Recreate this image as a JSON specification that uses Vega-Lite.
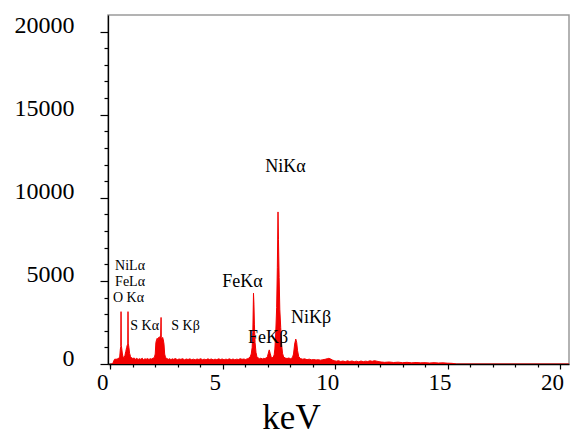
{
  "$schema": "https://vega.github.io/schema/vega-lite/v6.json",
  "width": 461,
  "height": 349,
  "autosize": {"type": "none"},
  "padding": {"left": 108, "top": 15, "right": 2, "bottom": 72},
  "background": "white",
  "config": {
    "view": {"stroke": "#9a9a9a", "strokeWidth": 1.5},
    "font": "Liberation Serif",
    "axis": {"grid": false, "domainColor": "#000", "tickColor": "#000", "labelColor": "#000", "titleColor": "#000", "labelFont": "Liberation Serif", "titleFont": "Liberation Serif", "domainWidth": 1.3, "tickWidth": 1.2}
  },
  "datasets": {
    "spec": [
      {"e": 0.00, "c": 0}, {"e": 0.10, "c": 0}, {"e": 0.14, "c": 120}, {"e": 0.18, "c": 260}, {"e": 0.22, "c": 310},
      {"e": 0.26, "c": 240}, {"e": 0.30, "c": 330}, {"e": 0.34, "c": 280}, {"e": 0.38, "c": 360}, {"e": 0.42, "c": 420},
      {"e": 0.45, "c": 900}, {"e": 0.47, "c": 1050}, {"e": 0.48, "c": 3150}, {"e": 0.49, "c": 1100}, {"e": 0.51, "c": 950},
      {"e": 0.54, "c": 600}, {"e": 0.57, "c": 420}, {"e": 0.61, "c": 380}, {"e": 0.65, "c": 500}, {"e": 0.69, "c": 750},
      {"e": 0.73, "c": 1000}, {"e": 0.76, "c": 1150}, {"e": 0.78, "c": 1200}, {"e": 0.79, "c": 3150}, {"e": 0.80, "c": 1250},
      {"e": 0.83, "c": 1000}, {"e": 0.86, "c": 650}, {"e": 0.90, "c": 450}, {"e": 0.95, "c": 380}, {"e": 1.00, "c": 330},
      {"e": 1.06, "c": 360}, {"e": 1.12, "c": 290}, {"e": 1.18, "c": 340}, {"e": 1.24, "c": 270}, {"e": 1.30, "c": 320},
      {"e": 1.36, "c": 280}, {"e": 1.42, "c": 350}, {"e": 1.48, "c": 260}, {"e": 1.54, "c": 310}, {"e": 1.60, "c": 290},
      {"e": 1.66, "c": 330}, {"e": 1.72, "c": 270}, {"e": 1.78, "c": 320}, {"e": 1.84, "c": 300}, {"e": 1.90, "c": 350},
      {"e": 1.96, "c": 380}, {"e": 2.00, "c": 600}, {"e": 2.03, "c": 1300}, {"e": 2.06, "c": 1450}, {"e": 2.09, "c": 1550},
      {"e": 2.12, "c": 1400}, {"e": 2.15, "c": 1600}, {"e": 2.18, "c": 1500}, {"e": 2.21, "c": 1650}, {"e": 2.24, "c": 1550},
      {"e": 2.26, "c": 2800}, {"e": 2.27, "c": 1600}, {"e": 2.30, "c": 1500}, {"e": 2.33, "c": 1600}, {"e": 2.36, "c": 1450},
      {"e": 2.39, "c": 1200}, {"e": 2.42, "c": 600}, {"e": 2.46, "c": 380}, {"e": 2.52, "c": 330}, {"e": 2.58, "c": 280},
      {"e": 2.64, "c": 320}, {"e": 2.70, "c": 260}, {"e": 2.76, "c": 310}, {"e": 2.82, "c": 280}, {"e": 2.90, "c": 330},
      {"e": 2.98, "c": 260}, {"e": 3.06, "c": 300}, {"e": 3.14, "c": 280}, {"e": 3.22, "c": 320}, {"e": 3.30, "c": 250},
      {"e": 3.38, "c": 300}, {"e": 3.46, "c": 270}, {"e": 3.54, "c": 310}, {"e": 3.62, "c": 260}, {"e": 3.70, "c": 290},
      {"e": 3.78, "c": 250}, {"e": 3.86, "c": 300}, {"e": 3.94, "c": 270}, {"e": 4.02, "c": 320}, {"e": 4.10, "c": 260},
      {"e": 4.18, "c": 290}, {"e": 4.26, "c": 250}, {"e": 4.34, "c": 310}, {"e": 4.42, "c": 270}, {"e": 4.50, "c": 300},
      {"e": 4.58, "c": 250}, {"e": 4.66, "c": 290}, {"e": 4.74, "c": 260}, {"e": 4.82, "c": 310}, {"e": 4.90, "c": 270},
      {"e": 4.98, "c": 300}, {"e": 5.06, "c": 250}, {"e": 5.14, "c": 290}, {"e": 5.22, "c": 270}, {"e": 5.30, "c": 310},
      {"e": 5.38, "c": 260}, {"e": 5.46, "c": 300}, {"e": 5.54, "c": 250}, {"e": 5.62, "c": 290}, {"e": 5.70, "c": 270},
      {"e": 5.78, "c": 320}, {"e": 5.86, "c": 280}, {"e": 5.94, "c": 300}, {"e": 6.02, "c": 270}, {"e": 6.10, "c": 320},
      {"e": 6.16, "c": 350}, {"e": 6.22, "c": 420}, {"e": 6.27, "c": 600}, {"e": 6.31, "c": 1000}, {"e": 6.34, "c": 1900},
      {"e": 6.37, "c": 4260}, {"e": 6.39, "c": 3600}, {"e": 6.41, "c": 2400}, {"e": 6.44, "c": 1300}, {"e": 6.48, "c": 700},
      {"e": 6.52, "c": 450}, {"e": 6.58, "c": 360}, {"e": 6.64, "c": 320}, {"e": 6.70, "c": 350}, {"e": 6.76, "c": 300},
      {"e": 6.82, "c": 340}, {"e": 6.88, "c": 320}, {"e": 6.94, "c": 380}, {"e": 6.99, "c": 450}, {"e": 7.03, "c": 650},
      {"e": 7.07, "c": 850}, {"e": 7.11, "c": 650}, {"e": 7.15, "c": 450}, {"e": 7.20, "c": 380}, {"e": 7.25, "c": 420},
      {"e": 7.29, "c": 550}, {"e": 7.32, "c": 900}, {"e": 7.36, "c": 1900}, {"e": 7.40, "c": 3400}, {"e": 7.43, "c": 5800},
      {"e": 7.46, "c": 9150}, {"e": 7.48, "c": 7500}, {"e": 7.51, "c": 5200}, {"e": 7.54, "c": 3300}, {"e": 7.58, "c": 2200},
      {"e": 7.62, "c": 1200}, {"e": 7.66, "c": 650}, {"e": 7.71, "c": 420}, {"e": 7.78, "c": 360}, {"e": 7.86, "c": 330},
      {"e": 7.94, "c": 360}, {"e": 8.02, "c": 320}, {"e": 8.10, "c": 380}, {"e": 8.15, "c": 600}, {"e": 8.20, "c": 1200},
      {"e": 8.25, "c": 1500}, {"e": 8.29, "c": 1300}, {"e": 8.33, "c": 800}, {"e": 8.38, "c": 450}, {"e": 8.45, "c": 330},
      {"e": 8.55, "c": 290}, {"e": 8.65, "c": 310}, {"e": 8.75, "c": 260}, {"e": 8.85, "c": 290}, {"e": 8.95, "c": 250},
      {"e": 9.05, "c": 270}, {"e": 9.15, "c": 240}, {"e": 9.25, "c": 260}, {"e": 9.35, "c": 230}, {"e": 9.45, "c": 260},
      {"e": 9.55, "c": 280}, {"e": 9.65, "c": 320}, {"e": 9.72, "c": 340}, {"e": 9.80, "c": 300}, {"e": 9.88, "c": 240},
      {"e": 9.96, "c": 200}, {"e": 10.05, "c": 170}, {"e": 10.15, "c": 200}, {"e": 10.25, "c": 150}, {"e": 10.35, "c": 180},
      {"e": 10.45, "c": 140}, {"e": 10.55, "c": 190}, {"e": 10.65, "c": 150}, {"e": 10.75, "c": 180}, {"e": 10.85, "c": 140},
      {"e": 10.95, "c": 170}, {"e": 11.05, "c": 130}, {"e": 11.15, "c": 180}, {"e": 11.25, "c": 140}, {"e": 11.35, "c": 170},
      {"e": 11.45, "c": 150}, {"e": 11.55, "c": 190}, {"e": 11.65, "c": 160}, {"e": 11.75, "c": 200}, {"e": 11.85, "c": 170},
      {"e": 11.95, "c": 140}, {"e": 12.05, "c": 120}, {"e": 12.2, "c": 100}, {"e": 12.4, "c": 120}, {"e": 12.6, "c": 90},
      {"e": 12.8, "c": 110}, {"e": 13.0, "c": 80}, {"e": 13.2, "c": 100}, {"e": 13.4, "c": 70}, {"e": 13.6, "c": 90},
      {"e": 13.8, "c": 70}, {"e": 14.0, "c": 80}, {"e": 14.2, "c": 60}, {"e": 14.4, "c": 80}, {"e": 14.6, "c": 60},
      {"e": 14.8, "c": 70}, {"e": 15.0, "c": 50}, {"e": 15.2, "c": 40}, {"e": 15.4, "c": 0}, {"e": 20.4, "c": 0}
    ],
    "labels": [
      {"e": 7.79, "c": 11854, "t": "NiKα", "s": 18},
      {"e": 5.88, "c": 4934, "t": "FeKα", "s": 18},
      {"e": 8.93, "c": 2768, "t": "NiKβ", "s": 18},
      {"e": 7.02, "c": 1564, "t": "FeKβ", "s": 18},
      {"e": 1.53, "c": 2286, "t": "S Kα", "s": 14},
      {"e": 3.35, "c": 2286, "t": "S Kβ", "s": 14},
      {"e": 0.88, "c": 5897, "t": "NiLα", "s": 14},
      {"e": 0.88, "c": 4934, "t": "FeLα", "s": 14},
      {"e": 0.81, "c": 3971, "t": "O Kα", "s": 14}
    ]
  },
  "resolve": {"axis": {"x": "independent", "y": "independent"}},
  "layer": [
    {
      "data": {"name": "spec"},
      "mark": {"type": "point", "opacity": 0},
      "encoding": {
        "x": {
          "field": "e", "type": "quantitative",
          "scale": {"domain": [-0.1, 20.4], "nice": false, "zero": false},
          "axis": {"orient": "bottom", "title": null, "labels": false, "domain": false, "tickSize": 3,
            "values": [0,1,2,3,4,6,7,8,9,11,12,13,14,16,17,18,19]}
        },
        "y": {
          "field": "c", "type": "quantitative",
          "scale": {"domain": [0, 21000], "nice": false},
          "axis": {"orient": "left", "title": null, "labels": false, "domain": false, "tickSize": 4,
            "values": [1000,2000,3000,4000,6000,7000,8000,9000,11000,12000,13000,14000,16000,17000,18000,19000]}
        }
      }
    },
    {
      "data": {"name": "spec"},
      "mark": {"type": "area", "color": "#f20000", "opacity": 1, "line": {"color": "#f20000", "strokeWidth": 1}, "clip": true},
      "encoding": {
        "x": {
          "field": "e", "type": "quantitative",
          "axis": {
            "orient": "bottom", "domain": true,
            "title": "keV", "titleFontSize": 35, "titleFontWeight": "normal", "titleFont": "Liberation Serif",
            "titleX": 183, "titleY": 64, "titleAlign": "center", "titleBaseline": "alphabetic",
            "values": [0, 5, 10, 15, 20], "tickSize": 5, "format": "d",
            "labelFont": "Liberation Serif", "labelFontSize": 23, "labelOffset": -8, "labelPadding": 2, "labelFlush": false
          }
        },
        "y": {
          "field": "c", "type": "quantitative",
          "axis": {
            "orient": "left", "domain": true,
            "title": null, "format": "d",
            "values": [0, 5000, 10000, 15000, 20000], "tickSize": 8,
            "labelFont": "Liberation Serif", "labelFontSize": 24, "labelOffset": -6, "labelPadding": 26, "labelFlush": false
          }
        }
      }
    },
    {
      "data": {"name": "labels"},
      "mark": {"type": "text", "font": "Liberation Serif", "color": "#000", "baseline": "middle", "align": "center"},
      "encoding": {
        "x": {"field": "e", "type": "quantitative", "axis": null},
        "y": {"field": "c", "type": "quantitative", "axis": null},
        "text": {"field": "t"},
        "size": {"field": "s", "type": "quantitative", "scale": null}
      }
    }
  ]
}
